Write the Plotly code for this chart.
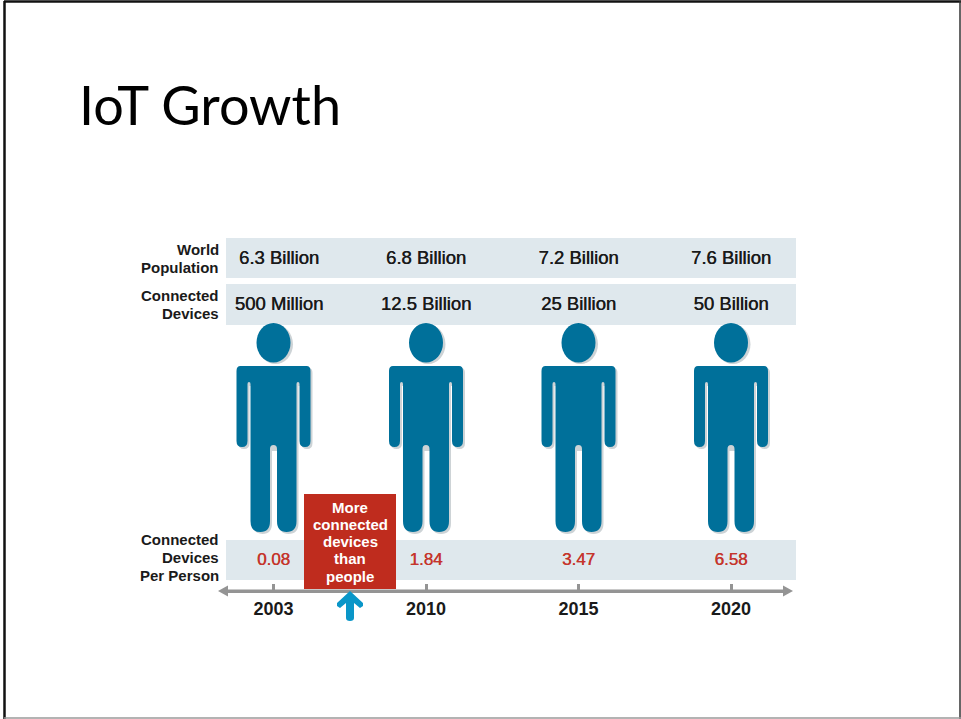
import plotly.graph_objects as go

# Chart content
title = "IoT Growth"
years = ["2003", "2010", "2015", "2020"]
world_population = ["6.3 Billion", "6.8 Billion", "7.2 Billion", "7.6 Billion"]
connected_devices = ["500 Million", "12.5 Billion", "25 Billion", "50 Billion"]
devices_per_person = [0.08, 1.84, 3.47, 6.58]
row_labels = {
    "population": ["World", "Population"],
    "devices": ["Connected", "Devices"],
    "ratio": ["Connected", "Devices", "Per Person"],
}
callout = ["More", "connected", "devices", "than", "people"]

# Canvas and palette
W, H = 961, 719
X0, STEP = 273.5, 152.5          # pixel position of the first year, pixels between years
TEAL, SHADOW = "#00709a", "#cdd3d6"
BAND, RED, GREY, BLUE = "#dfe8ed", "#bf2c1e", "#949494", "#0a96c8"
INK, VALUE_RED = "#1a1a1a", "#c5352c"
SANS = "Liberation Sans"
MEDIUM_INK = "0.45px 0 0 #1a1a1a"      # thickens the regular face a little
MEDIUM_RED = "0.45px 0 0 #c5352c"


def ux(px):
    """Pixel column to year-index units on the x axis."""
    return (px - X0) / STEP


PERSON = (
    "M -33 366 L 33 366 Q 37 366 37 371 L 37 441 Q 37 447 31.5 447 Q 26 447 26 441 "
    "L 26 384 Q 26 382 24.5 382 Q 23 382 23 384 L 23 521 Q 23 532 13 532 "
    "Q 3.5 532 3.5 521 L 3.5 449 Q 3.5 445 0 445 Q -3.5 445 -3.5 449 L -3.5 521 "
    "Q -3.5 532 -13 532 Q -23 532 -23 521 L -23 384 Q -23 382 -24.5 382 "
    "Q -26 382 -26 384 L -26 441 Q -26 447 -31.5 447 Q -37 447 -37 441 L -37 371 "
    "Q -37 366 -33 366 Z"
)
PERSON_SHADOW = (
    "M -31 368 L 35 368 Q 39 368 39 373 L 39 443 Q 39 449 33.5 449 Q 28 449 28 443 "
    "L 28 386 L 25 386 L 25 523 Q 25 534 15 534 Q 5.5 534 5.5 523 L 5.5 451 L -1.5 451 "
    "L -1.5 523 Q -1.5 534 -11 534 Q -21 534 -21 523 L -21 386 L -24 386 L -24 443 "
    "Q -24 449 -29.5 449 Q -35 449 -35 443 L -35 373 Q -35 368 -31 368 Z"
)
ARROW_UP = (
    "M 350 591 L 363 603 L 363 606 L 360 608 L 354 603 L 354 618 Q 354 621 350 621 "
    "Q 346 621 346 618 L 346 603 L 340 608 L 337 606 L 337 603 Z"
)

shapes = []


def rect(x0, y0, x1, y1, color):
    shapes.append(dict(type="rect", xref="x", yref="y", x0=ux(x0), x1=ux(x1), y0=y0, y1=y1,
                       fillcolor=color, line_width=0, layer="below"))


# Pale bands behind the three value rows
rect(226, 238, 796, 278, BAND)
rect(226, 284, 796, 325, BAND)
rect(226, 540, 796, 580, BAND)

# One figure per year
for i, _ in enumerate(years):
    base = dict(xref="x", yref="y", xsizemode="pixel", xanchor=i, layer="below", line_width=0)
    shapes.append(dict(type="circle", x0=-15.5, x1=19.5, y0=324.5, y1=364, fillcolor=SHADOW, **base))
    shapes.append(dict(type="path", path=PERSON_SHADOW, fillcolor=SHADOW, **base))
    shapes.append(dict(type="circle", x0=-17, x1=17, y0=323, y1=362.5, fillcolor=TEAL, **base))
    shapes.append(dict(type="path", path=PERSON, fillcolor=TEAL, **base))

# Callout box
rect(304, 494, 396, 589, RED)

# Timeline shaft and arrowheads
rect(226, 589.5, 786, 593, GREY)
for tip, back in ((218, 228), (793, 783)):
    shapes.append(dict(type="path", xref="x", yref="y", layer="below", line_width=0, fillcolor=GREY,
                       path=f"M {ux(tip)} 591 L {ux(back)} 585.5 L {ux(back)} 596.5 Z"))

# Blue marker under the callout
path_pts = ARROW_UP.split()
converted = []
expect_x = True
for tok in path_pts:
    if tok.isalpha():
        converted.append(tok)
        expect_x = True
    else:
        converted.append(str(ux(float(tok))) if expect_x else tok)
        expect_x = not expect_x
shapes.append(dict(type="path", xref="x", yref="y", layer="below", line_width=0, fillcolor=BLUE,
                   path=" ".join(converted)))

# Slide frame
for (x0, y0, x1, y1, c, w) in [
    (4, 1.5, 961, 1.5, "#111111", 2.5),
    (4.5, 1, 4.5, 719, "#111111", 2.5),
    (960, 1, 960, 719, "#333333", 1.5),
    (4, 718, 961, 718, "#9a9a9a", 1.5),
]:
    shapes.append(dict(type="line", xref="x", yref="y", x0=ux(x0), x1=ux(x1), y0=y0, y1=y1,
                       line=dict(color=c, width=w), layer="above"))

fig = go.Figure()

# Value rows
first_col_shift = [5.5 / STEP, 0, 0, 0]
idx = list(range(len(years)))
fig.add_trace(go.Scatter(
    x=[i + s for i, s in zip(idx, first_col_shift)], y=[259] * 4,
    mode="text", text=world_population, hoverinfo="skip",
    textfont=dict(family=SANS, size=18.5, color=INK, shadow=MEDIUM_INK)))
fig.add_trace(go.Scatter(
    x=[i + s for i, s in zip(idx, first_col_shift)], y=[305] * 4,
    mode="text", text=connected_devices, hoverinfo="skip",
    textfont=dict(family=SANS, size=18.5, color=INK, shadow=MEDIUM_INK)))
fig.add_trace(go.Scatter(
    x=idx, y=[561] * 4,
    mode="text", text=[f"{v:.2f}" for v in devices_per_person], hoverinfo="skip",
    textfont=dict(family=SANS, size=17, color=VALUE_RED, shadow=MEDIUM_RED)))

annotations = [dict(text=title, xref="paper", yref="paper", x=77 / W, y=1 - 105 / H,
                    xanchor="left", yanchor="middle", showarrow=False,
                    font=dict(family="Lato", size=54, color="#000000"))]


def stacked(lines, x, y_first, gap, anchor, size, color):
    for n, line in enumerate(lines):
        annotations.append(dict(text=f"<b>{line}</b>", xref="paper", yref="paper", x=x / W,
                                y=1 - (y_first + n * gap) / H, xanchor=anchor, yanchor="middle",
                                showarrow=False, font=dict(family=SANS, size=size, color=color)))


stacked(row_labels["population"], 221, 249, 18, "right", 15, INK)
stacked(row_labels["devices"], 221, 295, 18, "right", 15, INK)
stacked(row_labels["ratio"], 221, 539, 18, "right", 15, INK)
stacked(callout, 350, 507, 17.3, "center", 15, "#ffffff")

fig.update_layout(
    width=W, height=H, margin=dict(l=0, r=0, t=0, b=0), showlegend=False,
    paper_bgcolor="white", plot_bgcolor="white", shapes=shapes, annotations=annotations,
    xaxis=dict(range=[ux(0), ux(W)], domain=[0, 1], anchor="free", position=1 - 590 / H,
               tickmode="array", tickvals=idx, ticktext=[f"<b>{y}</b>" for y in years],
               ticks="inside", ticklen=6, tickwidth=3, tickcolor=GREY,
               tickfont=dict(family=SANS, size=18, color=INK), ticklabelstandoff=6,
               showgrid=False, zeroline=False, showline=False, fixedrange=True),
    yaxis=dict(range=[H, 0], domain=[0, 1], visible=False, fixedrange=True),
)
fig.write_html("out.html", config={"displayModeBar": False})
